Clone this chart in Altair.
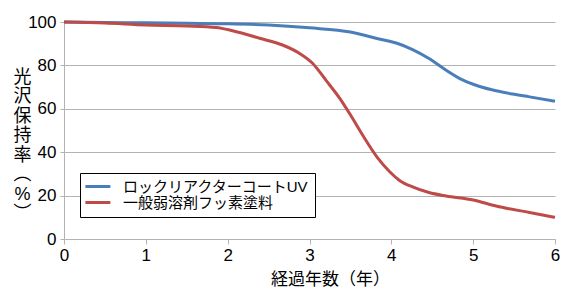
import altair as alt
import pandas as pd

series_names = ["ロックリアクターコートUV", "一般弱溶剤フッ素塗料"]

blue_years = [0, 0.5, 1, 1.5, 2, 2.5, 3, 3.5, 3.85, 4.06, 4.26, 4.46, 4.67, 4.87, 5.07, 5.28, 5.48, 5.69, 6]
blue_vals = [100, 99.8, 99.6, 99.4, 99.2, 98.6, 97.3, 95.4, 92.2, 90.3, 87.3, 83.2, 77.8, 73.3, 70.4, 68.3, 66.8, 65.5, 63.5]

red_years = [0, 0.5, 1, 1.5, 1.86, 2.06, 2.39, 2.67, 2.88, 3.04, 3.2, 3.37, 3.49, 3.65, 3.83, 3.98, 4.1, 4.26, 4.46, 4.67, 5.0, 5.28, 5.69, 6]
red_vals = [100, 99.5, 98.6, 98.2, 97.5, 96, 92.5, 89.4, 85.5, 80.9, 73.2, 64.8, 57.8, 47.8, 37.5, 31, 27, 24, 21.4, 19.8, 18, 15.2, 12.2, 10]

x_ticks = [0, 1, 2, 3, 4, 5, 6]
y_ticks = [0, 20, 40, 60, 80, 100]
x_title = "経過年数（年）"
y_title = ["光", "沢", "保", "持", "率", "︵", "%", "︶"]

df = pd.concat([
    pd.DataFrame({"year": blue_years, "value": blue_vals, "series": series_names[0]}),
    pd.DataFrame({"year": red_years, "value": red_vals, "series": series_names[1]}),
])

FONT = "Liberation Sans, 'Noto Sans CJK JP', sans-serif"
GRID = "#b3b3b3"

chart = alt.Chart(df).mark_line(interpolate="monotone", strokeWidth=3).encode(
    x=alt.X("year:Q",
            scale=alt.Scale(domain=[0, 6], nice=False, zero=False),
            axis=alt.Axis(values=x_ticks, grid=False, title=x_title,
                          labelFontSize=17, labelFont=FONT, labelColor="#000",
                          titleFont=FONT, titleFontSize=17, titleFontWeight="normal",
                          titleColor="#000", titleX=266, titleY=45,
                          titleAlign="center", titleBaseline="alphabetic",
                          domainColor=GRID, tickColor=GRID, tickSize=5,
                          labelPadding=3, labelFlush=False)),
    y=alt.Y("value:Q",
            scale=alt.Scale(domain=[0, 100], nice=False),
            axis=alt.Axis(values=y_ticks, grid=True, gridColor=GRID, title=y_title,
                          labelFontSize=17, labelFont=FONT, labelColor="#000",
                          titleFont=FONT, titleFontSize=18, titleFontWeight="normal",
                          titleColor="#000", titleAngle=0, titleX=-42, titleY=46,
                          titleAlign="center", titleBaseline="top", titleLineHeight=19.5,
                          domainColor=GRID, tickColor=GRID, tickSize=4,
                          labelPadding=4)),
    color=alt.Color("series:N",
                    scale=alt.Scale(domain=series_names, range=["#4a7ebb", "#be4b48"]),
                    legend=alt.Legend(title=None, orient="none", legendX=16, legendY=151,
                                      symbolType="M-2.6,0H5.4", symbolSize=39, symbolStrokeWidth=3,
                                      labelFont=FONT, labelFontSize=15, labelColor="#000",
                                      strokeColor="#000", fillColor="#fff", padding=6,
                                      labelOffset=22, rowPadding=0, labelLimit=400)),
).properties(
    width=491, height=217,
    autosize=alt.AutoSizeParams(type="none"),
    padding={"left": 56, "top": 14, "right": 6, "bottom": 48},
).configure_view(stroke=None)

chart.save("out.html", embed_options={"renderer": "svg", "actions": False})
